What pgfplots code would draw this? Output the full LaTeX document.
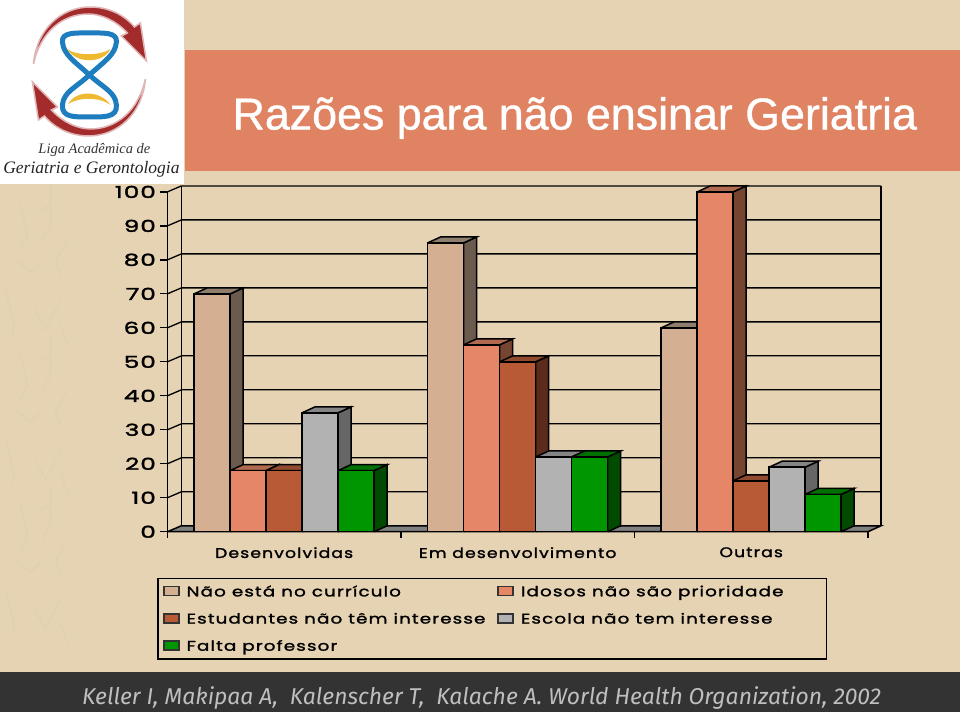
\documentclass[border=0pt]{standalone}
\usepackage{fontspec}
\usepackage{pgfplots}
\pgfplotsset{compat=1.18}
\setmainfont{Liberation Sans}
\newfontfamily\tf[FakeBold=0.9]{Liberation Sans}
\newfontfamily\cf[LetterSpace=8,FakeStretch=1.23,FakeBold=1.6]{Poppins}
\newfontfamily\gf[LetterSpace=8,FakeStretch=1.31,FakeBold=1.6]{Poppins}
\newfontfamily\yf[LetterSpace=6,FakeStretch=1.5,FakeBold=2]{Poppins}
\newfontfamily\kf{Fira Sans}
\newfontfamily\lf{Liberation Serif}
\definecolor{bgc}{HTML}{E5D3B3}
\definecolor{patt}{HTML}{E0D1B3}
\definecolor{banner}{HTML}{E08363}
\definecolor{cA}{HTML}{D4AF91}\definecolor{cAs}{HTML}{6B5A4E}\definecolor{cAt}{HTML}{8F7D6D}
\definecolor{cB}{HTML}{E58767}\definecolor{cBs}{HTML}{764532}\definecolor{cBt}{HTML}{B06A50}
\definecolor{cC}{HTML}{B85A36}\definecolor{cCs}{HTML}{5B2C1B}\definecolor{cCt}{HTML}{8F4A2F}
\definecolor{cD}{HTML}{B2B2B2}\definecolor{cDs}{HTML}{666666}\definecolor{cDt}{HTML}{858585}
\definecolor{cE}{HTML}{009600}\definecolor{cEs}{HTML}{004B00}\definecolor{cEt}{HTML}{007000}
\newcommand\lw{1.5pt}
\def\bw{0.1541}\def\dx{0.0557}\def\dy{1.76}
% side and top faces of one bar: #1 x of the bar centre, #2 value, #3 side colour, #4 top colour
\newcommand\faces[4]{%
  \pgfmathsetmacro\xl{#1-\bw/2}\pgfmathsetmacro\xr{#1+\bw/2}%
  \pgfmathsetmacro\xbl{\xl+\dx}\pgfmathsetmacro\xbr{\xr+\dx}%
  \pgfmathsetmacro\yt{#2+\dy}%
  \addplot[forget plot,fill=#3,draw=black,line width=\lw] coordinates {(\xr,0)(\xbr,\dy)(\xbr,\yt)(\xr,#2)(\xr,0)};
  \addplot[forget plot,fill=#4,draw=black,line width=\lw] coordinates {(\xl,#2)(\xbl,\yt)(\xbr,\yt)(\xr,#2)(\xl,#2)};
}
\newcommand\grid[1]{%
  \pgfmathsetmacro\yb{#1+\dy}%
  \addplot[forget plot,black,line width=1.3pt] coordinates {(-0.5,#1)(-0.44,\yb)(2.556,\yb)};
}
\newcommand\limg[1]{\draw[fill=#1,draw=black!80,line width=1.5pt] (0,-4pt) rectangle (15pt,5pt);\path (20pt,0);}
\begin{document}
\begin{tikzpicture}[x=1pt,y=-1pt]
\fill[bgc] (0,0) rectangle (960,712);
% faint background pattern
\foreach \o in {0,150,300}{
\begin{scope}[yshift=-\o pt,draw=patt,line width=1.4pt,line cap=round]
\draw (50,185) -- (50,225) -- (42,240);
\draw (50,205) -- (38,212);
\draw (20,205) -- (27,235) -- (20,250);
\draw (67,240) -- (55,262) -- (60,275);
\draw (15,260) -- (30,272) -- (40,262);
\draw (5,290) -- (14,325) -- (12,335);
\draw (35,310) -- (45,330) -- (60,300);
\draw (60,325) -- (68,345);
\end{scope}}
\fill[banner] (185,50) rectangle (960,171);
\fill[white] (0,0) rectangle (184,184);
\node[anchor=west,text=white,font=\tf\fontsize{44.8}{45}\selectfont,inner sep=0] at (232,118) {Razões para não ensinar Geriatria};
% logo
\begin{scope}
\definecolor{lr}{HTML}{A32B2B}
\foreach \r in {0,180}{
\begin{scope}[rotate around={\r:(89,71.5)}]
\filldraw[lr,draw=lr!35,line width=1.5pt] (33,64) .. controls (36,30) and (60,7) .. (90,7) .. controls (108,7) and (124,15) .. (134,27) -- (140,23) -- (146,61) -- (121,36) -- (127,33) .. controls (115,20) and (100,14) .. (88,14) .. controls (62,14) and (40,32) .. cycle;
\end{scope}}
\draw[color={rgb,255:red,30;green,125;blue,190},line width=5pt,line join=round] (89,75) .. controls (75,62) and (63,55) .. (62,42) .. controls (61,32) and (75,33) .. (89,33) .. controls (103,33) and (117,32) .. (116,42) .. controls (115,55) and (103,62) .. (89,75) .. controls (75,88) and (63,92) .. (62,105) .. controls (61,118) and (75,117) .. (89,117) .. controls (103,117) and (117,118) .. (116,105) .. controls (115,92) and (103,88) .. (89,75) -- cycle;
\fill[color={rgb,255:red,240;green,185;blue,50}] (67,49) .. controls (75,56) and (100,56) .. (110,49) .. controls (103,64) and (75,64) .. cycle;
\fill[color={rgb,255:red,240;green,185;blue,50}] (68,104) .. controls (75,90) and (100,90) .. (110,105) .. controls (100,97) and (78,97) .. cycle;
\node[font=\lf\itshape\fontsize{14.5}{15}\selectfont,text=black!80] at (94,150) {Liga Acadêmica de};
\node[font=\lf\itshape\fontsize{17.5}{18}\selectfont,text=black!85] at (91,169.5) {Geriatria e Gerontologia};
\end{scope}
% footer
\fill[color={rgb,255:red,51;green,51;blue,51}] (0,672) rectangle (960,712);
\node[anchor=west,text=black!25,font=\kf\itshape\fontsize{22.9}{23}\selectfont,inner sep=0] at (81.5,698) {Keller I, Makipaa A,\ \ Kalenscher T,\ \ Kalache A. World Health Organization, 2002};
\begin{axis}[
  at={(167pt,-532pt)},anchor=south west,
  scale only axis,width=714pt,height=346pt,
  xmin=-0.5,xmax=2.556,ymin=0,ymax=101.76,
  clip=false,axis line style={draw=none},
  xtick={0,1,2},xticklabels={Desenvolvidas,Em desenvolvimento,Outras},
  minor xtick={-0.5,0.5,1.5,2.5},
  ytick={0,10,...,100},
  xtick pos=left,ytick pos=left,
  tick align=outside,
  major tick length=7pt,minor tick length=6pt,
  major x tick style={draw=none},
  minor x tick style={black,line width=1.3pt},
  ytick style={black,line width=1.3pt},
  every x tick label/.append style={font=\cf\fontsize{14}{14}\selectfont,text=black,yshift=-5pt},
  yticklabel style={font=\yf\fontsize{16.5}{16.5}\selectfont,text=black,/pgf/number format/assume math mode=true,xshift=-1pt},
  legend columns=2,
  legend cell align=left,
  legend style={at={(-0.014,-0.133)},anchor=north west,fill=none,draw=black,line width=1.5pt,
    font=\gf\fontsize{14}{14}\selectfont,inner xsep=5pt,inner ysep=5pt,
    /tikz/every even column/.append style={column sep=10pt},row sep=11pt},
]
% walls and floor
\addplot[forget plot,fill=black!50,draw=black,line width=\lw] coordinates {(-0.5,0)(2.5,0)(2.556,1.76)(-0.44,1.76)(-0.5,0)};
\grid{10}\grid{20}\grid{30}\grid{40}\grid{50}\grid{60}\grid{70}\grid{80}\grid{90}\grid{100}
\addplot[forget plot,black,line width=\lw] coordinates {(-0.5,0)(-0.5,100)};
\addplot[forget plot,black,line width=\lw] coordinates {(-0.44,1.76)(-0.44,101.76)};
\addplot[forget plot,black,line width=\lw] coordinates {(2.556,1.76)(2.556,101.76)};
\addplot[forget plot,black,line width=\lw] coordinates {(-0.5,0)(2.5,0)};
% series 1
\faces{-0.3082}{70}{cAs}{cAt}\faces{0.6918}{85}{cAs}{cAt}\faces{1.6918}{60}{cAs}{cAt}
\addplot[ybar,bar width=\bw,bar shift=-0.3082,fill=cA,draw=black,line width=\lw,
  legend image code/.code={\limg{cA}}]
  coordinates {(0,70)(1,85)(2,60)};
\addlegendentry{Não está no currículo}
% series 2
\faces{-0.1541}{18}{cBs}{cBt}\faces{0.8459}{55}{cBs}{cBt}\faces{1.8459}{100}{cBs}{cBt}
\addplot[ybar,bar width=\bw,bar shift=-0.1541,fill=cB,draw=black,line width=\lw,
  legend image code/.code={\limg{cB}}]
  coordinates {(0,18)(1,55)(2,100)};
\addlegendentry{Idosos não são prioridade\rule{36pt}{0pt}}
% series 3
\faces{0}{18}{cCs}{cCt}\faces{1}{50}{cCs}{cCt}\faces{2}{15}{cCs}{cCt}
\addplot[ybar,bar width=\bw,bar shift=0,fill=cC,draw=black,line width=\lw,
  legend image code/.code={\limg{cC}}]
  coordinates {(0,18)(1,50)(2,15)};
\addlegendentry{Estudantes não têm interesse}
% series 4
\faces{0.1541}{35}{cDs}{cDt}\faces{1.1541}{22}{cDs}{cDt}\faces{2.1541}{19}{cDs}{cDt}
\addplot[ybar,bar width=\bw,bar shift=0.1541,fill=cD,draw=black,line width=\lw,
  legend image code/.code={\limg{cD}}]
  coordinates {(0,35)(1,22)(2,19)};
\addlegendentry{Escola não tem interesse}
% series 5
\faces{0.3082}{18}{cEs}{cEt}\faces{1.3082}{22}{cEs}{cEt}\faces{2.3082}{11}{cEs}{cEt}
\addplot[ybar,bar width=\bw,bar shift=0.3082,fill=cE,draw=black,line width=\lw,
  legend image code/.code={\limg{cE}}]
  coordinates {(0,18)(1,22)(2,11)};
\addlegendentry{Falta professor}
\end{axis}
\end{tikzpicture}
\end{document}
